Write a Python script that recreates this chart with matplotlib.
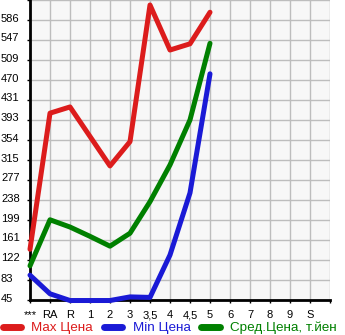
import matplotlib
matplotlib.use("Agg")
import matplotlib.pyplot as plt
import matplotlib.transforms as mtransforms
import numpy as np

plt.rcParams["font.family"] = ["Liberation Sans", "DejaVu Sans"]

categories = ["***", "RA", "R", "1", "2", "3", "3,5", "4", "4,5", "5", "6", "7", "8", "9", "S"]
max_price = [143, 406, 418, 361, 304, 351, 615, 528, 540, 601]
min_price = [93, 57, 44, 44, 44, 51, 50, 132, 252, 482]
avg_price = [111, 200, 186, 168, 149, 174, 235, 306, 393, 541]
ytick_values = [45, 83.64, 122.29, 160.93, 199.57, 238.21, 276.86, 315.5,
                354.14, 392.79, 431.43, 470.07, 508.71, 547.36, 586.0]
ytick_labels = ["45", "83", "122", "161", "199", "238", "277", "315",
                "354", "393", "431", "470", "509", "547", "586"]
legend_labels = ["Max Цена", "Min Цена", "Сред.Цена, т.йен"]

RED = "#dc1c1c"
BLUE = "#1a1ad6"
GREEN = "#008000"

fig = plt.figure(figsize=(3.45, 3.35), dpi=100)
ax = fig.add_axes([30/345, 35/335, 300/345, 300/335])
ax.set_facecolor("#f7f7f7")

x = np.arange(len(categories))
lw = 3.6
kw = dict(linewidth=lw, solid_capstyle="round", solid_joinstyle="round", clip_on=False, zorder=5)
l1, = ax.plot(x[:len(max_price)], max_price, color=RED, label=legend_labels[0], **kw)
l2, = ax.plot(x[:len(min_price)], min_price, color=BLUE, label=legend_labels[1], **kw)
l3, = ax.plot(x[:len(avg_price)], avg_price, color=GREEN, label=legend_labels[2], **kw)

top = 45 + 15 * 38.643
ax.set_xlim(0, len(categories))
ax.set_ylim(45, top)

ax.set_xticks(list(x) + [len(categories)])
ax.set_xticklabels(categories + [""], fontsize=8)
ax.set_yticks(ytick_values + [top])
ax.set_yticklabels(ytick_labels + [""], fontsize=8)

ax.grid(True, color="#bdbdbd", linewidth=1.0, zorder=1)
ax.set_axisbelow(True)

for s in ["top", "right"]:
    ax.spines[s].set_visible(False)
for s in ["left", "bottom"]:
    ax.spines[s].set_linewidth(2)
    ax.spines[s].set_color("black")
    ax.spines[s].set_zorder(4)

ax.tick_params(axis="both", length=2.2, width=1, color="black")
ax.tick_params(axis="x", pad=5)
ax.tick_params(axis="y", pad=18.7)
for lab in ax.get_yticklabels():
    lab.set_horizontalalignment("left")
    lab.set_transform(lab.get_transform() + mtransforms.ScaledTranslation(0, 2.5/100, fig.dpi_scale_trans))

fs = 9.7
leg = fig.legend(handles=[l1, l2, l3], loc="center left", bbox_to_anchor=(2.5/345, 7/335),
                 ncol=3, frameon=False, fontsize=fs, handlelength=1.35,
                 handletextpad=0.8, columnspacing=0.8, borderpad=0,
                 labelcolor="linecolor", borderaxespad=0)
for h in leg.legend_handles:
    h.set_linewidth(5)
    h.set_solid_capstyle("round")

fig.savefig("out.png", dpi=100)
